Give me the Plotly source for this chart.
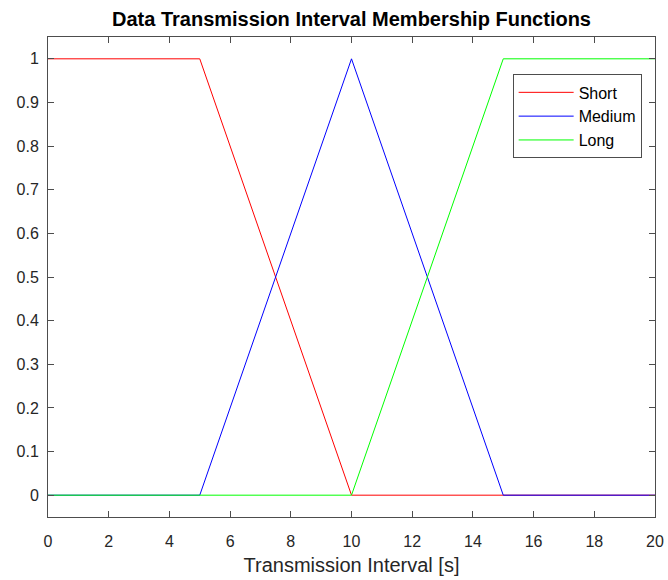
import plotly.graph_objects as go

# Membership function breakpoints (transmission interval in seconds)
short_x = [0, 5, 10, 20]
short_y = [1, 1, 0, 0]
medium_x = [0, 5, 10, 15, 20]
medium_y = [0, 0, 1, 0, 0]
long_x = [0, 10, 15, 20]
long_y = [0, 0, 1, 1]

x_ticks = [0, 2, 4, 6, 8, 10, 12, 14, 16, 18, 20]
y_ticks = [0, 0.1, 0.2, 0.3, 0.4, 0.5, 0.6, 0.7, 0.8, 0.9, 1]
y_tick_text = ["0", "0.1", "0.2", "0.3", "0.4", "0.5", "0.6", "0.7", "0.8", "0.9", "1"]

text_color = "#262626"
line_color = "#4d4d4d"
font_family = "Liberation Sans, Arial, sans-serif"

fig = go.Figure()
fig.add_trace(go.Scatter(x=short_x, y=short_y, mode="lines", name="Short",
                         line=dict(color="#ff0000", width=1)))
fig.add_trace(go.Scatter(x=medium_x, y=medium_y, mode="lines", name="Medium",
                         line=dict(color="#0000ff", width=1)))
fig.add_trace(go.Scatter(x=long_x, y=long_y, mode="lines", name="Long",
                         line=dict(color="#00ff00", width=1)))

fig.update_layout(
    width=668, height=580,
    margin=dict(l=48, r=13, t=37, b=63, pad=0),
    paper_bgcolor="white", plot_bgcolor="white",
    font=dict(family=font_family, size=16, color=text_color),
    title=dict(text="<b>Data Transmission Interval Membership Functions</b>",
               xref="paper", x=0.5, xanchor="center",
               yref="container", y=0.967, yanchor="middle",
               font=dict(size=20, color="black")),
    showlegend=True,
    legend=dict(x=0.978, xanchor="right", y=0.922, yanchor="top",
                bgcolor="white", bordercolor=line_color, borderwidth=1,
                font=dict(size=16, color="black"),
                tracegroupgap=0, itemwidth=55),
)

fig.update_xaxes(
    range=[0, 20], tickvals=x_ticks, ticktext=[str(v) for v in x_ticks],
    showgrid=False, zeroline=False, automargin=False,
    showline=True, linecolor=line_color, linewidth=1, mirror="allticks",
    ticks="inside", ticklen=6, tickcolor=line_color, ticklabelstandoff=10,
    title=dict(text="Transmission Interval [s]", font=dict(size=20), standoff=8),
)
fig.update_yaxes(
    range=[-0.05, 1.05], tickvals=y_ticks, ticktext=y_tick_text,
    showgrid=False, zeroline=False, automargin=False,
    showline=True, linecolor=line_color, linewidth=1, mirror="allticks",
    ticks="inside", ticklen=6, tickcolor=line_color, ticklabelstandoff=5,
)

fig.write_html("out.html")
